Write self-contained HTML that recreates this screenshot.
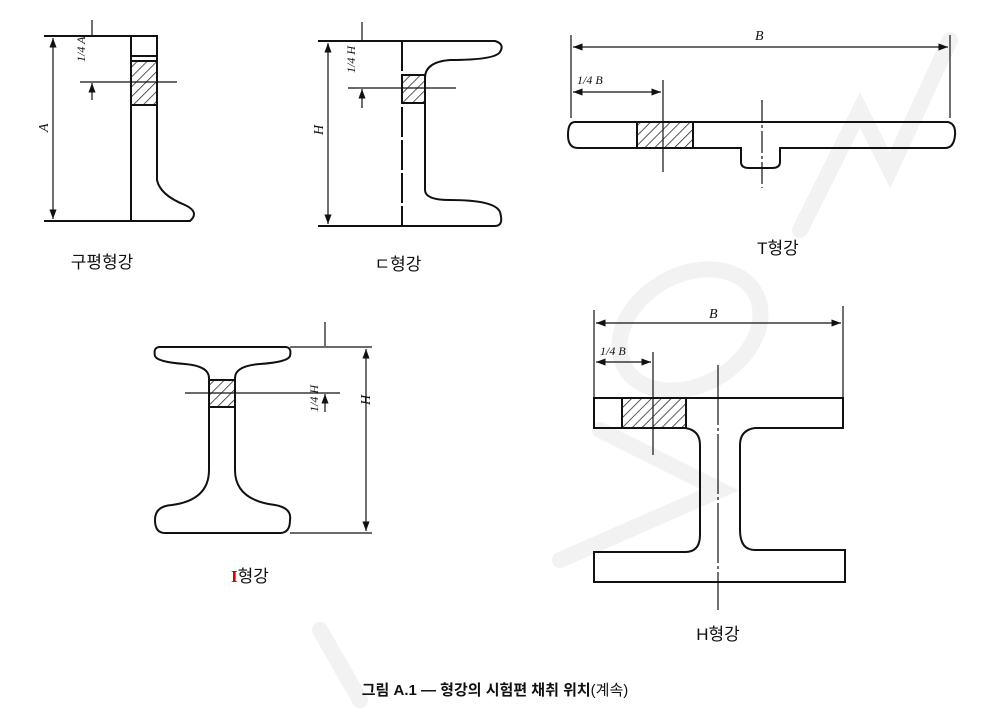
<!DOCTYPE html>
<html><head><meta charset="utf-8"><style>
body{margin:0;background:#fff;width:990px;height:721px;overflow:hidden}
svg{display:block}
text{font-family:"Liberation Sans","Noto Sans CJK KR",sans-serif}
.it{font-family:"Liberation Serif",serif;font-style:italic}
</style></head><body>
<svg width="990" height="721" viewBox="0 0 990 721">
<defs>
<pattern id="h" width="7" height="7" patternUnits="userSpaceOnUse" patternTransform="rotate(45)"><line x1="0" y1="0" x2="0" y2="7" stroke="#222" stroke-width="1.5"/></pattern>
<marker id="a" markerWidth="8" markerHeight="6" refX="8" refY="3" orient="auto-start-reverse"><path d="M0,0L8,3L0,6z" fill="#111"/></marker>
</defs>
<g stroke="#f2f2f2" stroke-width="16" fill="none" stroke-linecap="round">
<path d="M800 230 L860 110 L890 170 L950 40"/>
<ellipse cx="690" cy="330" rx="75" ry="55" transform="rotate(-30 690 330)"/>
<path d="M600 430 L720 490 L560 560"/>
<path d="M320 630 L360 700"/>
</g>
<g stroke="#111" stroke-width="2" fill="none">
<rect x="131" y="61" width="26" height="44" fill="url(#h)"/>
<path d="M44 36H157V180Q160 195 185 205Q200 212 190 221H44"/>
<path d="M131 36V221M131 56H157M131 61H157M131 105H157"/>
<path d="M80 82H177" stroke-width="1.2"/>
<path d="M53 38V219" stroke-width="1.2" marker-start="url(#a)" marker-end="url(#a)"/>
<path d="M92 20V35M92 100V83" stroke-width="1.2" marker-end="url(#a)"/>
<rect x="402" y="75" width="23" height="28" fill="url(#h)"/>
<path d="M318 41H495Q505 44 500 52Q495 60 450 60Q425 62 425 78V190Q425 200 450 200Q495 200 500 212Q504 226 495 226H318"/>
<path d="M402 41V226" stroke-dasharray="30 3"/>
<path d="M402 75H425M402 103H425"/>
<path d="M348 88H456" stroke-width="1.2"/>
<path d="M328 43V224" stroke-width="1.2" marker-start="url(#a)" marker-end="url(#a)"/>
<path d="M362 22V40M362 108V89" stroke-width="1.2" marker-end="url(#a)"/>
<rect x="637" y="122" width="56" height="26" fill="url(#h)"/>
<path d="M575 122H948Q956 124 955 135Q954 148 945 148H780V162Q780 168 772 168H749Q741 168 741 162V148H578Q568 148 568 135Q568 122 575 122Z"/>
<path d="M637 122V148M693 122V148"/>
<path d="M571 35V118M950 35V118M663 80V172" stroke-width="1.2"/>
<path d="M573 47H948" stroke-width="1.2" marker-start="url(#a)" marker-end="url(#a)"/>
<path d="M573 92H661" stroke-width="1.2" marker-start="url(#a)" marker-end="url(#a)"/>
<path d="M762 100V188" stroke-width="1.2" stroke-dasharray="22 3 3 3"/>
<rect x="209" y="380" width="26" height="27" fill="url(#h)"/>
<path d="M160 347H285Q292 347 290 356Q288 362 260 364Q235 366 235 378V470Q235 500 275 505Q292 508 290 520Q290 533 280 533H165Q155 533 155 520Q155 506 172 505Q209 500 209 470V378Q209 366 185 364Q157 362 155 356Q153 347 160 347Z"/>
<path d="M209 380H235M209 407H235"/>
<path d="M185 393H340M290 347H372M290 533H372" stroke-width="1.2"/>
<path d="M366 349V531" stroke-width="1.2" marker-start="url(#a)" marker-end="url(#a)"/>
<path d="M325 322V346M325 412V394" stroke-width="1.2" marker-end="url(#a)"/>
<rect x="622" y="398" width="64" height="30" fill="url(#h)"/>
<path d="M594 398H843V428H755Q740 430 740 445V530Q740 550 755 550H845V582H594V552H685Q700 552 700 535V445Q700 430 685 428H594Z"/>
<path d="M622 398V428"/>
<path d="M594 310V428M843 306V398M653 352V455" stroke-width="1.2"/>
<path d="M596 323H841" stroke-width="1.2" marker-start="url(#a)" marker-end="url(#a)"/>
<path d="M596 362H651" stroke-width="1.2" marker-start="url(#a)" marker-end="url(#a)"/>
<path d="M718 365V610" stroke-width="1.2" stroke-dasharray="60 3 3 3"/>
</g>
<g font-size="14" fill="#111">
<text class="it" transform="translate(48 132) rotate(-90)">A</text>
<text class="it" transform="translate(323 135) rotate(-90)">H</text>
<text class="it" transform="translate(370 405) rotate(-90)">H</text>
<text class="it" transform="translate(85 62) rotate(-90)" font-size="12">1/4 A</text>
<text class="it" transform="translate(355 73) rotate(-90)" font-size="12">1/4 H</text>
<text class="it" transform="translate(318 412) rotate(-90)" font-size="12">1/4 H</text>
<text class="it" x="755" y="40">B</text>
<text class="it" x="709" y="318">B</text>
<text class="it" x="577" y="84" font-size="12">1/4 B</text>
<text class="it" x="600" y="355" font-size="12">1/4 B</text>
</g>
<g font-size="17" fill="#111" text-anchor="middle">
<text x="102" y="268">구평형강</text>
<text x="398" y="270">ㄷ형강</text>
<text x="778" y="254">T형강</text>
<text x="250" y="582"><tspan fill="#d00" font-weight="bold" font-family="Liberation Serif">I</tspan>형강</text>
<text x="718" y="640">H형강</text>
<text x="495" y="695" font-size="15" font-weight="bold">그림 A.1 — 형강의 시험편 채취 위치<tspan font-weight="normal">(계속)</tspan></text>
</g>
</svg>
</body></html>
